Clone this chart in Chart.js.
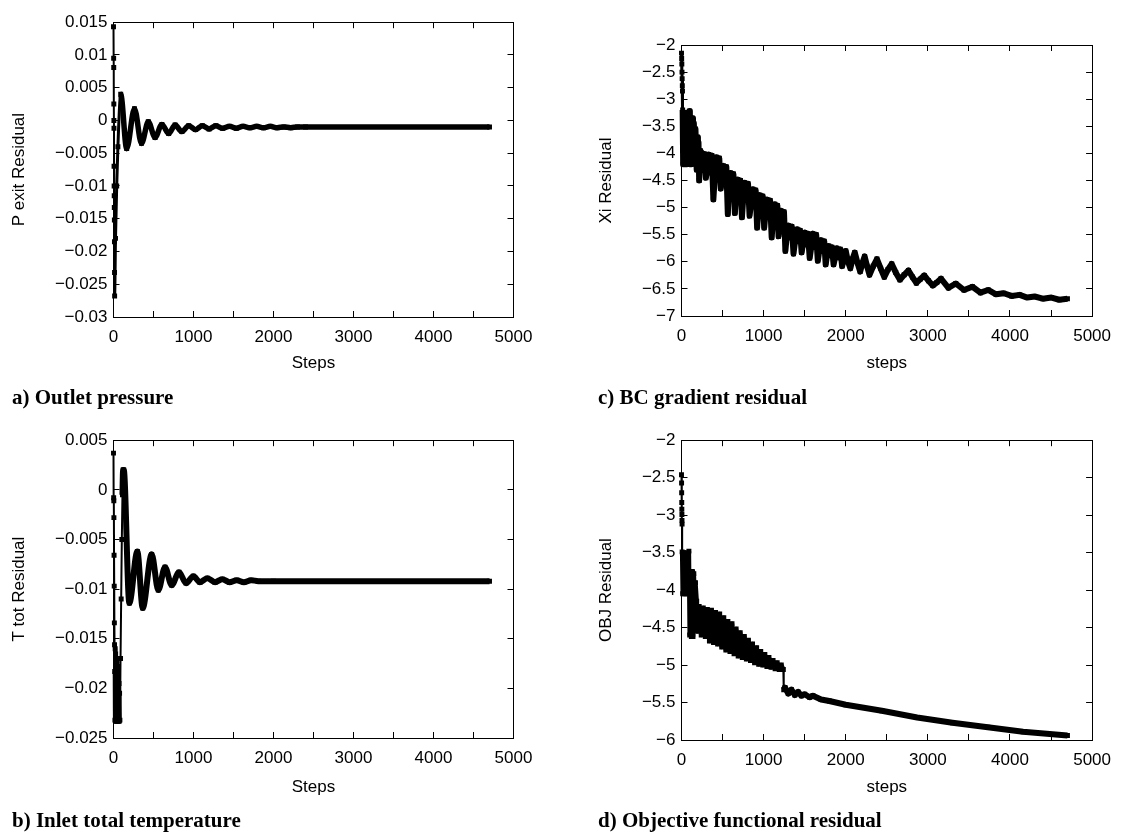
<!DOCTYPE html>
<html>
<head>
<meta charset="utf-8">
<script src="https://cdn.jsdelivr.net/npm/chart.js@4"></script>
<style>
  body { margin: 0; background: #fff; }
  #page { position: relative; width: 1127px; height: 836px; overflow: hidden; background: #fff; }
  canvas { position: absolute; }
  .cap { position: absolute; font: bold 21px "Liberation Serif", "Times New Roman", serif; line-height: 24px; color: #000; white-space: nowrap; }
</style>
</head>
<body>
<div id="page">
  <canvas id="pA"></canvas>
  <canvas id="pB"></canvas>
  <canvas id="pC"></canvas>
  <canvas id="pD"></canvas>
  <div class="cap" style="left:12px; top:385px;">a) Outlet pressure</div>
  <div class="cap" style="left:598px; top:385px;">c) BC gradient residual</div>
  <div class="cap" style="left:12px; top:808px;">b) Inlet total temperature</div>
  <div class="cap" style="left:598px; top:808px;">d) Objective functional residual</div>
</div>
<script>
// x axis ticks (labelled ones) shared by all four plots
const xLabels = [0, 1000, 2000, 3000, 4000, 5000];

// a) outlet pressure residual
const stepsA = [0, 2, 3, 4, 5, 6, 7, 8, 9, 10, 11, 12, 13, 14, 25, 40, 55, 90,
  165, 262, 350, 435, 520, 605, 690, 770, 855, 940,
  1025, 1110, 1195, 1280, 1365, 1450, 1535, 1620, 1705, 1790,
  1875, 1960, 2045, 2130, 2215, 2300, 2400, 4700];
const pExit = [0.0143, 0.0095, 0.0081, 0.0025, 0.0000, -0.0012, -0.0070, -0.0100, -0.0115, -0.0133, -0.0152, -0.0185, -0.0232, -0.0268, -0.0180, -0.0100, -0.0040, 0.0040,
  -0.0043, 0.0018, -0.0035, -0.0002, -0.0026, -0.0006, -0.0020, -0.0007, -0.0017, -0.0008,
  -0.0014, -0.0008, -0.0013, -0.0008, -0.0012, -0.0009, -0.0012, -0.0009, -0.0011, -0.0009,
  -0.0011, -0.0009, -0.0011, -0.0010, -0.0011, -0.0010, -0.0010, -0.0010];

// b) inlet total temperature residual
const stepsB = [0, 2, 4, 5, 7, 9, 11, 13, 15, 18, 21, 24, 27, 30, 33, 36, 39, 42, 45, 48, 51, 54, 57, 60, 63, 66, 69, 72, 76, 80,
  88, 96, 104, 112, 120, 128,
  198, 298, 365, 477, 560, 644, 727, 819, 906, 998, 1081, 1173, 1269, 1360, 1450, 1540, 1630, 1720, 1810, 2000, 4700];
const tTot = [0.0037, -0.0008, -0.0011, -0.0028, -0.0066, -0.0097, -0.0134, -0.0156, -0.0183, -0.0232, -0.0160, -0.0233, -0.0165, -0.0233, -0.0170, -0.0233, -0.0172, -0.0233, -0.0175, -0.0233, -0.0178, -0.0233, -0.0182, -0.0233, -0.0188, -0.0233, -0.0195, -0.0233, -0.0205, -0.0232,
  -0.0170, -0.0110, -0.0050, -0.0005, 0.0020, 0.0020,
  -0.0114, -0.0062, -0.0119, -0.0065, -0.0101, -0.0078, -0.0096, -0.0083, -0.0094, -0.0087, -0.0093, -0.0089, -0.0093, -0.0090, -0.0093, -0.0091, -0.0093, -0.0091, -0.0092, -0.0092, -0.0092];

// c) BC gradient residual (log scale values)
const stepsC = [0, 2, 4, 6, 8, 10, 12, 14, 20, 28, 35, 42, 50, 58, 65, 72, 80, 88, 95, 102, 110, 120, 130, 140, 150, 160, 170, 185, 193, 200, 207, 215, 230,
  245, 262, 279, 297, 314, 331, 350, 369, 388, 407, 426, 443, 460, 478, 495,
  512, 529, 546, 564, 581, 598, 615, 632, 650, 667, 684, 701, 718, 736, 753,
  770, 790, 810, 829, 849, 869, 886, 903, 921, 938, 955, 972, 989, 1007, 1024,
  1041, 1060, 1079, 1098, 1117, 1136, 1151, 1167, 1182, 1198, 1213, 1230, 1248, 1265, 1283,
  1300, 1321, 1343, 1364, 1386, 1407, 1426, 1444, 1463, 1481, 1500, 1520, 1540, 1561, 1581,
  1601, 1621, 1640, 1660, 1679, 1700, 1719, 1738, 1756, 1775, 1794, 1813, 1832, 1852, 1871,
  1890, 1912, 1934, 1956, 1978,
  2000, 2028, 2056, 2083, 2110, 2143, 2176, 2203, 2230, 2260, 2290, 2335, 2380, 2425, 2470, 2515,
  2560, 2610, 2660, 2712, 2764, 2812, 2860, 2908, 2956, 3008, 3060, 3110, 3160, 3250, 3340, 3440, 3543, 3640,
  3735, 3830, 3924, 4020, 4118, 4210, 4300, 4400, 4505, 4600, 4700];
const xi = [-2.15, -2.25, -2.35, -2.5, -2.62, -2.75, -2.85, -3.2, -4.2, -3.3, -4.2, -3.25, -4.2, -3.3, -4.2, -3.25, -4.1, -3.3, -3.22, -4.2, -3.4, -4.2, -3.35, -4.0, -3.45, -3.9, -3.55, -4.3, -3.7, -4.2, -3.8, -4.5, -3.95,
  -3.99, -4.30, -4.01, -4.45, -4.30, -4.02, -4.35, -4.04, -4.85, -4.38, -4.07, -4.40, -4.09, -4.65, -4.45,
  -4.23, -4.55, -4.25, -5.12, -4.60, -4.36, -4.68, -4.38, -5.10, -4.72, -4.48, -4.78, -4.50, -5.18, -4.80,
  -4.54, -4.84, -4.56, -5.15, -4.90, -4.66, -4.95, -4.68, -5.37, -5.00, -4.77, -5.05, -4.79, -5.37, -5.08,
  -4.85, -5.13, -4.87, -5.55, -5.18, -4.94, -5.22, -4.96, -5.53, -5.28, -5.06, -5.30, -5.08, -5.80, -5.50,
  -5.33, -5.55, -5.35, -5.85, -5.58, -5.40, -5.62, -5.42, -5.83, -5.65, -5.46, -5.68, -5.48, -5.93, -5.72,
  -5.48, -5.72, -5.50, -5.98, -5.78, -5.60, -5.80, -5.62, -6.05, -5.85, -5.71, -5.88, -5.73, -6.05, -5.92,
  -5.75, -5.92, -5.77, -6.08, -5.95,
  -5.80, -6.00, -6.12, -5.95, -5.83, -6.02, -6.18, -6.02, -5.90, -6.08, -6.24, -6.08, -5.95, -6.12, -6.28, -6.14,
  -6.04, -6.20, -6.33, -6.24, -6.16, -6.28, -6.39, -6.32, -6.25, -6.35, -6.44, -6.38, -6.31, -6.48, -6.40, -6.52, -6.46, -6.57,
  -6.52, -6.60, -6.58, -6.63, -6.61, -6.66, -6.64, -6.68, -6.66, -6.70, -6.68];

// d) objective functional residual
const stepsD = [0, 1, 2, 3, 4, 5, 6, 7, 8, 15, 25, 35, 45, 55, 65, 75, 90, 100, 110, 120, 130, 140, 150, 160, 170, 185, 195,
  215, 240, 265, 290, 315, 340, 365, 390, 415, 440, 465, 490, 515, 540, 565, 590, 615, 640, 665, 690,
  715, 740, 765, 790, 815, 840, 865, 890, 915, 940, 965, 990, 1015, 1040, 1065, 1090, 1115, 1140, 1165, 1190, 1215, 1240,
  1245, 1260, 1300, 1340, 1380, 1420, 1460, 1500, 1560, 1600, 1700, 1800, 2000, 2440, 2870, 3300, 3730, 4160, 4700];
const obj = [-2.46, -2.57, -2.70, -2.83, -2.92, -2.99, -3.07, -3.12, -3.49, -4.05, -3.5, -4.05, -3.55, -4.05, -3.5, -4.05, -3.48, -4.6, -4.1, -4.62, -3.75, -4.62, -3.78, -4.1, -3.9, -4.15, -4.55,
  -4.22, -4.6, -4.24, -4.62, -4.26, -4.68, -4.27, -4.7, -4.3, -4.72, -4.32, -4.76, -4.37, -4.8, -4.42, -4.82, -4.45, -4.85, -4.52, -4.88,
  -4.57, -4.9, -4.62, -4.92, -4.67, -4.94, -4.72, -4.97, -4.77, -4.99, -4.82, -5.0, -4.86, -5.02, -4.9, -5.03, -4.94, -5.05, -4.97, -5.06, -5.0, -5.06,
  -5.33, -5.30, -5.38, -5.33, -5.4, -5.36, -5.41, -5.39, -5.43, -5.41, -5.46, -5.48, -5.53, -5.61, -5.70, -5.77, -5.83, -5.89, -5.94];

const CW = 563, CH = 418;
const font = { family: '"Liberation Sans", Arial, sans-serif', size: 17, lineHeight: 1.2 };
const half = 10.2;

function fmt(v) {
  return String(Math.round(v * 1000) / 1000).replace('-', '\u2212');
}

function panel(id, pos, plot, yTitleX, xTitleY, yMin, yMax, yStep, xTitle, yTitle, steps, vals, widthAt, smooth) {
  const el = document.getElementById(id);
  el.style.left = pos[0] + 'px';
  el.style.top = pos[1] + 'px';
  el.width = CW;
  el.height = CH;
  const L = plot[0] - pos[0], T = plot[1] - pos[1], R = plot[2] - pos[0], B = plot[3] - pos[1];
  const xH = xTitleY - pos[1] + half - B;
  const inward = { display: true, drawOnChartArea: false, drawTicks: true, tickLength: -6, color: '#000', tickWidth: 1 };
  const border = { display: true, color: '#000', width: 1 };

  new Chart(el, {
    type: 'line',
    data: {
      datasets: [{
        data: steps.map((s, i) => ({ x: s, y: vals[i] })),
        borderColor: '#000',
        backgroundColor: '#000',
        borderWidth: 5,
        borderJoinStyle: 'round',
        pointStyle: 'rect',
        pointRadius: 3.5,
        pointBorderWidth: 0,
        pointBackgroundColor: '#000',
        cubicInterpolationMode: smooth ? 'monotone' : 'default',
        tension: 0,
        clip: 8,
        segment: { borderWidth: ctx => widthAt(ctx.p0.parsed.x) }
      }]
    },
    options: {
      responsive: false,
      animation: false,
      devicePixelRatio: 1,
      layout: { autoPadding: false, padding: { left: 0, top: T, right: CW - R, bottom: CH - B - xH } },
      plugins: { legend: { display: false }, tooltip: { enabled: false } },
      scales: {
        x: {
          type: 'linear', position: 'bottom', min: 0, max: 5000,
          grid: inward, border: border,
          ticks: { stepSize: 500, autoSkip: false, maxRotation: 0, padding: 16, color: '#000', font: font,
                   callback: v => xLabels.includes(v) ? String(v) : '' },
          title: { display: true, text: xTitle, color: '#000', font: font, padding: { top: 0, bottom: 0 } },
          afterFit: s => { s.height = xH; }
        },
        x2: {
          type: 'linear', position: 'top', min: 0, max: 5000,
          grid: inward, border: border,
          ticks: { stepSize: 500, autoSkip: false, display: false },
          afterFit: s => { s.height = 0; }
        },
        y: {
          type: 'linear', position: 'left', min: yMin, max: yMax,
          grid: inward, border: border,
          ticks: { stepSize: yStep, autoSkip: false, padding: 12, color: '#000', font: font, callback: v => fmt(v) },
          title: { display: true, text: yTitle, color: '#000', font: font, padding: { top: yTitleX - pos[0] - half, bottom: 0 } },
          afterFit: s => { s.width = L; }
        },
        y2: {
          type: 'linear', position: 'right', min: yMin, max: yMax,
          grid: inward, border: border,
          ticks: { stepSize: yStep, autoSkip: false, display: false },
          afterFit: s => { s.width = 0; }
        }
      }
    }
  });
}

panel('pA', [0, 0], [113.5, 13, 513.5, 317], 19.6, 363, -0.03, 0.015, 0.005, 'Steps', 'P exit Residual',
  stepsA, pExit, x => x < 14 ? 2 : (x < 90 ? 3 : 5.5), true);
panel('pB', [0, 418], [113.5, 434, 513.5, 738], 19.6, 787, -0.025, 0.005, 0.005, 'Steps', 'T tot Residual',
  stepsB, tTot, x => x < 15 ? 2 : (x < 80 ? 4 : (x < 112 ? 2 : 6)), true);
panel('pC', [564, 0], [681.5, 45, 1098, 316], 606, 363, -7, -2, 0.5, 'steps', 'Xi Residual',
  stepsC, xi, x => x < 14 ? 3 : 6, false);
panel('pD', [564, 418], [681.5, 436, 1098, 740], 606, 787, -6, -2, 0.5, 'steps', 'OBJ Residual',
  stepsD, obj, x => x < 8 ? 2 : (x < 1240 ? 4.5 : (x < 1245 ? 2 : 6)), false);
</script>
</body>
</html>
